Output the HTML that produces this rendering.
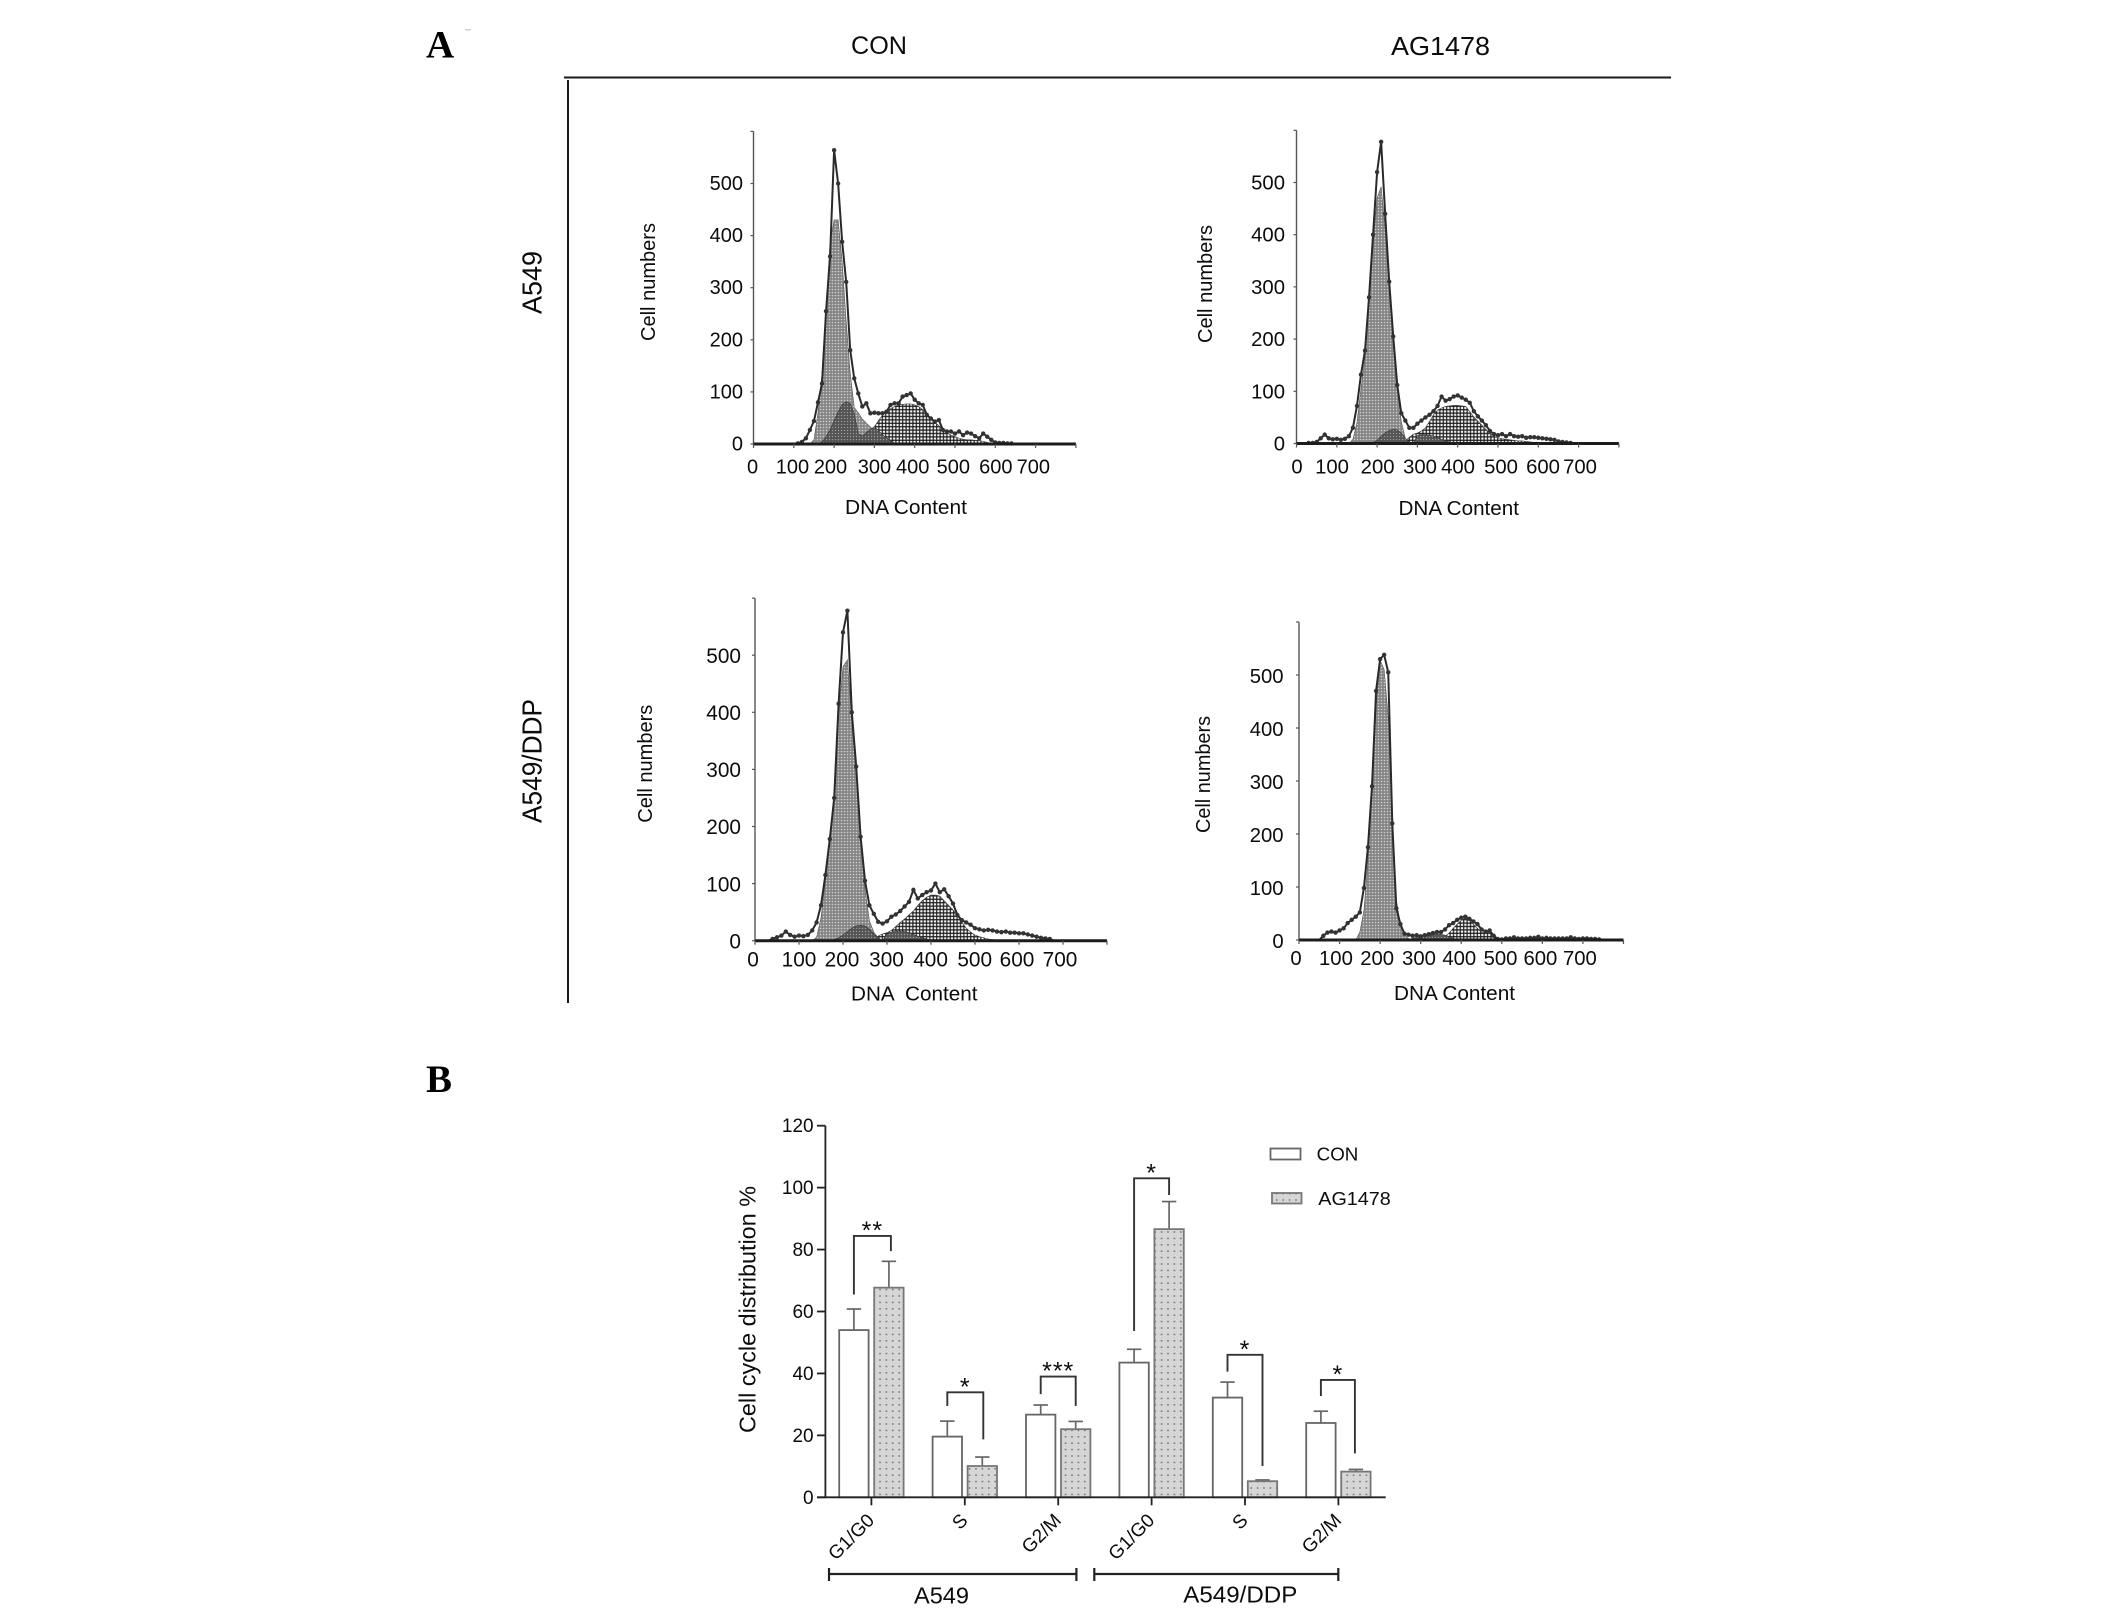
<!DOCTYPE html>
<html lang="en">
<head>
<meta charset="utf-8">
<title>Cell cycle distribution figure</title>
<style>
html,body{margin:0;padding:0;background:#fff;width:2126px;height:1612px;overflow:hidden}
svg{display:block}
text{font-family:"Liberation Sans",sans-serif;fill:#0c0c0c}
</style>
</head>
<body>
<svg id="figure" xmlns="http://www.w3.org/2000/svg" width="2126" height="1612" viewBox="0 0 2126 1612">
  <defs>
    <pattern id="g1-pattern" width="3" height="3" patternUnits="userSpaceOnUse">
      <rect width="3" height="3" fill="#858585"/>
      <circle cx="1.5" cy="1.5" r="0.8" fill="#cfcfcf"/>
    </pattern>
    <pattern id="s-pattern" width="3" height="3" patternUnits="userSpaceOnUse">
      <rect width="3" height="3" fill="#555"/>
      <circle cx="1.5" cy="1.5" r="0.65" fill="#a0a0a0"/>
    </pattern>
    <pattern id="g2-pattern" width="3.4" height="3.4" patternUnits="userSpaceOnUse">
      <rect width="3.4" height="3.4" fill="#f4f4f4"/>
      <path d="M0 1.7H3.4M1.7 0V3.4" stroke="#1a1a1a" stroke-width="1.15" fill="none"/>
    </pattern>
    <pattern id="bar-dots" width="6.4" height="6.4" patternUnits="userSpaceOnUse">
      <rect width="6.4" height="6.4" fill="#d6d6d6"/>
      <circle cx="3.2" cy="3.2" r="0.85" fill="#6a6a6a"/>
    </pattern>
  </defs>

  <text x="426" y="57.5" style="font-family:'Liberation Serif',serif;font-weight:bold;font-size:39px;fill:#000">A</text>
  <rect x="465" y="29" width="6" height="1.5" fill="#cfcfcf"/>
  <text x="426" y="1092" style="font-family:'Liberation Serif',serif;font-weight:bold;font-size:39px;fill:#000">B</text>

  <text x="851" y="54" font-size="25" textLength="56" lengthAdjust="spacingAndGlyphs">CON</text>
  <text x="1391" y="55" font-size="26" textLength="99" lengthAdjust="spacingAndGlyphs">AG1478</text>
  <line x1="564" y1="77.5" x2="1671" y2="77.5" stroke="#1a1a1a" stroke-width="2"/>
  <line x1="568" y1="80" x2="568" y2="1003" stroke="#1a1a1a" stroke-width="2"/>
  <text transform="translate(541.4,314) rotate(-90)" font-size="28" textLength="63" lengthAdjust="spacingAndGlyphs">A549</text>
  <text transform="translate(541.6,823) rotate(-90)" font-size="28" textLength="124" lengthAdjust="spacingAndGlyphs">A549/DDP</text>

  <g id="panel-a549-con">
    <text x="845" y="514" font-size="20.5" textLength="122" lengthAdjust="spacingAndGlyphs">DNA Content</text>
    <text transform="translate(654.8,341) rotate(-90)" font-size="20" textLength="118" lengthAdjust="spacingAndGlyphs">Cell numbers</text>
  </g>
  <g id="panel-a549-ag">
    <text x="1398.5" y="515" font-size="20.5" textLength="120.5" lengthAdjust="spacingAndGlyphs">DNA Content</text>
    <text transform="translate(1212,343) rotate(-90)" font-size="20" textLength="118" lengthAdjust="spacingAndGlyphs">Cell numbers</text>
  </g>
  <g id="panel-ddp-con">
    <text x="851" y="1000.7" font-size="20.5" textLength="126.5" lengthAdjust="spacingAndGlyphs" xml:space="preserve">DNA  Content</text>
    <text transform="translate(652,822.7) rotate(-90)" font-size="20" textLength="118" lengthAdjust="spacingAndGlyphs">Cell numbers</text>
  </g>
  <g id="panel-ddp-ag">
    <text x="1394" y="1000" font-size="20.5" textLength="121" lengthAdjust="spacingAndGlyphs">DNA Content</text>
    <text transform="translate(1210,833) rotate(-90)" font-size="20" textLength="117" lengthAdjust="spacingAndGlyphs">Cell numbers</text>
  </g>

  <g id="bar-chart">
    <text transform="translate(755.7,1433) rotate(-90)" font-size="23" textLength="247" lengthAdjust="spacingAndGlyphs">Cell cycle distribution %</text>
    <line x1="829" y1="1574" x2="1076.4" y2="1574" stroke="#222" stroke-width="2.2"/>
    <line x1="829" y1="1568" x2="829" y2="1581" stroke="#222" stroke-width="2.2"/>
    <line x1="1076.4" y1="1568" x2="1076.4" y2="1581" stroke="#222" stroke-width="2.2"/>
    <line x1="1094.3" y1="1574" x2="1338.3" y2="1574" stroke="#222" stroke-width="2.2"/>
    <line x1="1094.3" y1="1568" x2="1094.3" y2="1581" stroke="#222" stroke-width="2.2"/>
    <line x1="1338.3" y1="1568" x2="1338.3" y2="1581" stroke="#222" stroke-width="2.2"/>
    <text x="914" y="1603.3" font-size="23" textLength="55" lengthAdjust="spacingAndGlyphs">A549</text>
    <text x="1183.3" y="1602.7" font-size="23" textLength="114" lengthAdjust="spacingAndGlyphs">A549/DDP</text>
    <g>
      <rect x="1270.5" y="1148.5" width="30" height="11" fill="#fff" stroke="#666" stroke-width="1.8"/>
      <text x="1316.7" y="1160.7" font-size="18.5" textLength="41.6" lengthAdjust="spacingAndGlyphs">CON</text>
      <rect x="1272" y="1193" width="29.5" height="10.5" fill="url(#bar-dots)" stroke="#777" stroke-width="1.8"/>
      <text x="1318.3" y="1205" font-size="18.5" textLength="72.4" lengthAdjust="spacingAndGlyphs">AG1478</text>
    </g>
  </g>
</svg>

<script>
// ---- Histogram data (counts at each DNA-content bin) ----
const dnaBins = [
  0,10,20,30,40,50,60,70,80,90,
  100,110,120,130,140,150,160,170,180,190,
  200,210,220,230,240,250,260,270,280,290,
  300,310,320,330,340,350,360,370,380,390,
  400,410,420,430,440,450,460,470,480,490,
  500,510,520,530,540,550,560,570,580,590,
  600,610,620,630,640,650,660,670,680,690,
  700,710,720,730,740,750,760,770,780,790
];
const histXTicks = [0,100,200,300,400,500,600,700];
const histXTickMarks = [0,100,200,300,400,500,600,700,800];
const histYTicks = [0,100,200,300,400,500];
const histYTickMarks = [0,100,200,300,400,500,600];

const a549ConObserved = [
  0,0,0,0,0,0,0,0,0,0,
  0,1,4,11,27,44,80,116,255,360,
  564,500,388,311,180,126,97,72,78,59,
  60,59,59,62,75,78,78,91,94,97,
  85,78,75,56,49,43,46,27,24,24,
  20,24,17,22,20,15,11,20,14,8,
  3,2,2,1,1
];
const a549ConG1 = [
  0,0,0,0,0,0,0,0,0,0,
  0,0,0,0,0,8,60,135,260,385,
  430,430,350,235,136,70,60,48,40,33,
  25,15,8,2
];
const a549ConS = [
  0,0,0,0,0,0,0,0,0,0,
  0,0,0,0,0,0,0,4,14,27,
  45,62,76,81,78,58,20,15,22,28,
  33,26,18,12,6,2
];
const a549ConG2 = [
  0,0,0,0,0,0,0,0,0,0,
  0,0,0,0,0,0,0,0,0,0,
  0,0,0,0,0,0,4,10,18,26,
  33,45,55,62,68,72,75,76,77,77,
  75,72,66,58,50,42,35,28,22,17,
  14,11,9,8,8,7,7,5,3,1
];

const a549AgObserved = [
  0,0,0,1,1,3,10,17,10,8,
  9,7,9,14,30,72,132,178,280,400,
  520,578,440,310,205,112,58,44,30,30,
  38,44,50,55,62,72,90,82,85,90,
  92,88,84,78,62,52,44,35,24,18,
  16,18,14,18,14,13,14,11,12,12,
  11,10,9,8,7,4,3,2,1
];
const a549AgG1 = [
  0,0,0,0,0,0,0,0,0,0,
  0,0,0,0,8,40,105,165,270,380,
  470,492,410,300,195,105,42,10,2
];
const a549AgS = [
  0,0,0,0,0,0,0,0,0,0,
  0,0,0,0,0,0,0,0,0,2,
  6,14,20,25,27,26,20,10,2,0,
  15,17,17,16,14,11,8,5,3,1
];
const a549AgG2 = [
  0,0,0,0,0,0,0,0,0,0,
  0,0,0,0,0,0,0,0,0,0,
  0,0,0,0,0,0,0,5,12,18,
  20,24,30,42,55,64,68,71,72,73,
  73,72,71,61,51,43,35,27,20,14,
  11,9,8,7,6,5,5,4,3,2,
  1
];

const ddpConObserved = [
  0,0,0,0,3,6,9,16,10,7,
  9,8,10,18,32,62,115,178,250,415,
  540,578,400,305,182,105,62,47,33,30,
  34,42,46,52,60,68,89,74,80,85,
  88,100,85,90,78,65,45,36,32,28,
  22,20,18,19,18,16,15,16,14,14,
  13,13,11,9,7,5,4,3
];
const ddpConG1 = [
  0,0,0,0,0,0,0,0,0,0,
  0,0,0,0,6,40,105,170,245,395,
  480,492,385,295,175,90,35,15,5
];
const ddpConS = [
  0,0,0,0,0,0,0,0,0,0,
  0,0,0,0,0,0,0,0,2,5,
  10,16,22,26,27,26,20,12,4,0,
  12,15,17,17,16,14,11,8,5,3,
  1
];
const ddpConG2 = [
  0,0,0,0,0,0,0,0,0,0,
  0,0,0,0,0,0,0,0,0,0,
  0,0,0,0,0,0,0,0,8,12,
  14,18,25,32,38,45,52,62,70,76,
  80,80,78,70,62,54,44,33,22,15,
  10,7,5,3,2,1
];

const ddpAgObserved = [
  0,0,0,0,0,0,8,14,16,14,
  18,22,32,38,44,52,98,175,290,470,
  530,538,505,220,60,30,12,10,8,9,
  7,9,11,13,15,15,20,28,32,38,
  42,44,40,35,30,20,16,18,8,2,
  1,3,3,5,3,3,3,4,4,6,
  3,4,3,3,3,3,3,5,3,2,
  3,3,2,2,1
];
const ddpAgG1 = [
  0,0,0,0,0,0,0,0,0,0,
  0,0,0,0,0,15,55,150,280,440,
  528,510,420,220,75,30,10,3
];
const ddpAgS = [
  0,0,0,0,0,0,0,0,0,0,
  0,0,0,0,0,0,0,0,0,0,
  0,0,0,0,0,0,0,1,3,5,
  6,8,9,10,11,11,9,6,3,1
];
const ddpAgG2 = [
  0,0,0,0,0,0,0,0,0,0,
  0,0,0,0,0,0,0,0,0,0,
  0,0,0,0,0,0,0,0,0,0,
  0,0,0,0,0,3,7,13,22,30,
  37,41,37,30,22,14,14,14,5
];

// ---- Bar chart data ----
const barCategories = ['G1/G0','S','G2/M','G1/G0','S','G2/M'];
const conMeans = [54,19.6,26.7,43.5,32.2,24];
const conErrors = [6.8,5,3.1,4.3,5,3.8];
const agMeans = [67.7,10.1,22,86.6,5.2,8.3];
const agErrors = [8.5,2.9,2.5,8.9,0.4,0.7];
const barYTicks = [0,20,40,60,80,100,120];
const bracketLeftEnds = [65.5,29.5,33.3,53.7,40.6,32.7];
const bracketTops = [84.4,33.9,39,103,46,37.9];
const bracketRightEnds = [79.5,18.7,29.5,97.6,10.1,14.2];
const bracketStars = ['**','*','***','*','*','*'];

// ---- Helpers ----
const SVGNS = 'http://www.w3.org/2000/svg';
function make(tag, attrs, parent) {
  const node = document.createElementNS(SVGNS, tag);
  for (const k in attrs) node.setAttribute(k, attrs[k]);
  parent.appendChild(node);
  return node;
}

// ---- Histogram drawing ----
function drawHistogram(layout, observed, g1, s, g2) {
  const group = document.getElementById(layout.id);
  const xScale = v => layout.x0 + v * layout.xUnit;
  const yScale = v => layout.y0 - v * layout.yUnit;
  const valueAt = (series, i) => series[i] || 0;

  function areaPath(series) {
    let d = 'M' + xScale(dnaBins[0]) + ' ' + yScale(0);
    dnaBins.forEach((b, i) => { d += 'L' + xScale(b) + ' ' + yScale(valueAt(series, i)); });
    d += 'L' + xScale(dnaBins[dnaBins.length - 1]) + ' ' + yScale(0) + 'Z';
    return d;
  }

  const g2Area = make('path', {d: areaPath(g2), fill: 'url(#g2-pattern)', stroke: '#333', 'stroke-width': 0.6}, group);
  
  
  const g1Area = make('path', {d: areaPath(g1), fill: 'url(#g1-pattern)', stroke: '#555', 'stroke-width': 0.6}, group);
  
  
  const sArea = make('path', {d: areaPath(s), fill: 'url(#s-pattern)', stroke: '#333', 'stroke-width': 0.6}, group);
  
  

  const pts = dnaBins.map((b, i) => xScale(b) + ',' + yScale(valueAt(observed, i))).join(' ');
  const line = make('polyline', {points: pts, fill: 'none', stroke: '#2a2a2a', 'stroke-width': 2}, group);
  
  
  dnaBins.forEach((b, i) => {
    const v = valueAt(observed, i);
    if (v <= 0) return;
    const dot = make('circle', {cx: xScale(b), cy: yScale(v), r: 2.2, fill: '#333'}, group);
    
    
  });

  const yAxis = make('line', {x1: layout.x0, x2: layout.x0, y1: yScale(0), y2: yScale(histYTickMarks[histYTickMarks.length - 1]), stroke: '#555', 'stroke-width': 1.4}, group);
  
  
  const xAxis = make('line', {x1: xScale(0), x2: xScale(histXTickMarks[histXTickMarks.length - 1]), y1: yScale(0), y2: yScale(0), stroke: '#1c1c1c', 'stroke-width': 3}, group);
  
  

  histYTickMarks.forEach(v => {
    const t = make('line', {x1: layout.x0 - 3, x2: layout.x0, y1: yScale(v), y2: yScale(v), stroke: '#555', 'stroke-width': 1.2}, group);
    
    
  });
  histXTickMarks.forEach(v => {
    const t = make('line', {x1: xScale(v), x2: xScale(v), y1: yScale(0), y2: yScale(0) + 4, stroke: '#555', 'stroke-width': 1.2}, group);
    
    
  });
  histYTicks.forEach(v => {
    const t = make('text', {x: layout.yLabelX, y: yScale(v) + layout.yLabelDy, 'text-anchor': 'end', 'font-size': layout.tickFont}, group);
    
    
    t.textContent = v;
  });
  histXTicks.forEach((v, i) => {
    const t = make('text', {x: xScale(v) + layout.nudge[i], y: layout.xLabelY, 'text-anchor': 'middle', 'font-size': layout.tickFont}, group);
    
    
    t.textContent = v;
  });
}

drawHistogram({id:'panel-a549-con', x0:753.5, xUnit:0.403, y0:444, yUnit:0.521, yLabelX:743, yLabelDy:6.5, xLabelY:473.5, tickFont:20,
  nudge:[-1,-1.4,-3.6,0,-2,-1.7,0.5,-2.3]}, a549ConObserved, a549ConG1, a549ConS, a549ConG2);
drawHistogram({id:'panel-a549-ag', x0:1296.5, xUnit:0.403, y0:443.5, yUnit:0.522, yLabelX:1285, yLabelDy:7, xLabelY:473.5, tickFont:20.3,
  nudge:[0.5,-4.8,0.5,2.6,0.3,3,4.7,1.4]}, a549AgObserved, a549AgG1, a549AgS, a549AgG2);
drawHistogram({id:'panel-ddp-con', x0:755, xUnit:0.44, y0:940.7, yUnit:0.571, yLabelX:741, yLabelDy:7.7, xLabelY:966.7, tickFont:20.8,
  nudge:[-2,0,-1,-0.5,-0.4,-0.3,-2,-3]}, ddpConObserved, ddpConG1, ddpConS, ddpConG2);
drawHistogram({id:'panel-ddp-ag', x0:1299, xUnit:0.4056, y0:940, yUnit:0.53, yLabelX:1283.6, yLabelDy:8, xLabelY:965, tickFont:20.3,
  nudge:[-3,-3.6,-3,-1.7,-2,-1.3,-2,-3]}, ddpAgObserved, ddpAgG1, ddpAgS, ddpAgG2);

// ---- Bar chart drawing ----
(function drawBarChart() {
  const chart = document.getElementById('bar-chart');
  const yScale = v => 1497.3 - v * 3.0967;
  const center = i => 871.4 + i * 93.4;
  const barWidth = 29.4;
  const offset = 17.5;
  const bracketRightNudge = [2,1,0,0,0,-1];

  function drawBar(i, mean, err, sign, fill, stroke, label) {
    const cx = center(i) + sign * offset;
    const e = make('line', {x1: cx, x2: cx, y1: yScale(mean), y2: yScale(mean + err), stroke: '#666', 'stroke-width': 1.7}, chart);
    
    
    const c = make('line', {x1: cx - 7.2, x2: cx + 7.2, y1: yScale(mean + err), y2: yScale(mean + err), stroke: '#666', 'stroke-width': 1.7}, chart);
    
    
    const r = make('rect', {x: cx - barWidth / 2, y: yScale(mean), width: barWidth, height: yScale(0) - yScale(mean), fill: fill, stroke: stroke, 'stroke-width': 1.8}, chart);
    
    
  }

  barCategories.forEach((cat, i) => {
    drawBar(i, conMeans[i], conErrors[i], -1, '#fff', '#666', 'con');
    drawBar(i, agMeans[i], agErrors[i], 1, 'url(#bar-dots)', '#777', 'ag1478');

    const lx = center(i) - offset;
    const rx = center(i) + offset + bracketRightNudge[i];
    const d = 'M' + lx + ' ' + yScale(bracketLeftEnds[i]) + 'V' + yScale(bracketTops[i]) + 'H' + rx + 'V' + yScale(bracketRightEnds[i]);
    const b = make('path', {d: d, fill: 'none', stroke: '#333', 'stroke-width': 1.9}, chart);
    
    
    const star = make('text', {x: (lx + rx) / 2, y: yScale(bracketTops[i]) + 3, 'text-anchor': 'middle', 'font-size': 25, 'letter-spacing': 1}, chart);
    
    
    star.textContent = bracketStars[i];

    const tick = make('line', {x1: center(i), x2: center(i), y1: yScale(0), y2: yScale(0) + 8, stroke: '#222', 'stroke-width': 1.8}, chart);
    
    
    const ax = center(i) + 4;
    const ay = 1521.5;
    const lab = make('text', {transform: 'translate(' + ax + ',' + ay + ') rotate(-45)', 'text-anchor': 'end', 'font-size': 19}, chart);
    
    
    lab.textContent = cat;
  });

  const xAxis = make('line', {x1: 817, x2: 1385.7, y1: yScale(0), y2: yScale(0), stroke: '#222', 'stroke-width': 1.8}, chart);
  
  
  const yAxis = make('line', {x1: 825.4, x2: 825.4, y1: yScale(0), y2: yScale(barYTicks[barYTicks.length - 1]), stroke: '#222', 'stroke-width': 1.8}, chart);
  
  
  barYTicks.forEach(v => {
    const t = make('line', {x1: 817, x2: 825.4, y1: yScale(v), y2: yScale(v), stroke: '#222', 'stroke-width': 1.8}, chart);
    
    
    const l = make('text', {x: 813.6, y: yScale(v) + 6.5, 'text-anchor': 'end', 'font-size': 19}, chart);
    
    
    l.textContent = v;
  });
})();
</script>
</body>
</html>
